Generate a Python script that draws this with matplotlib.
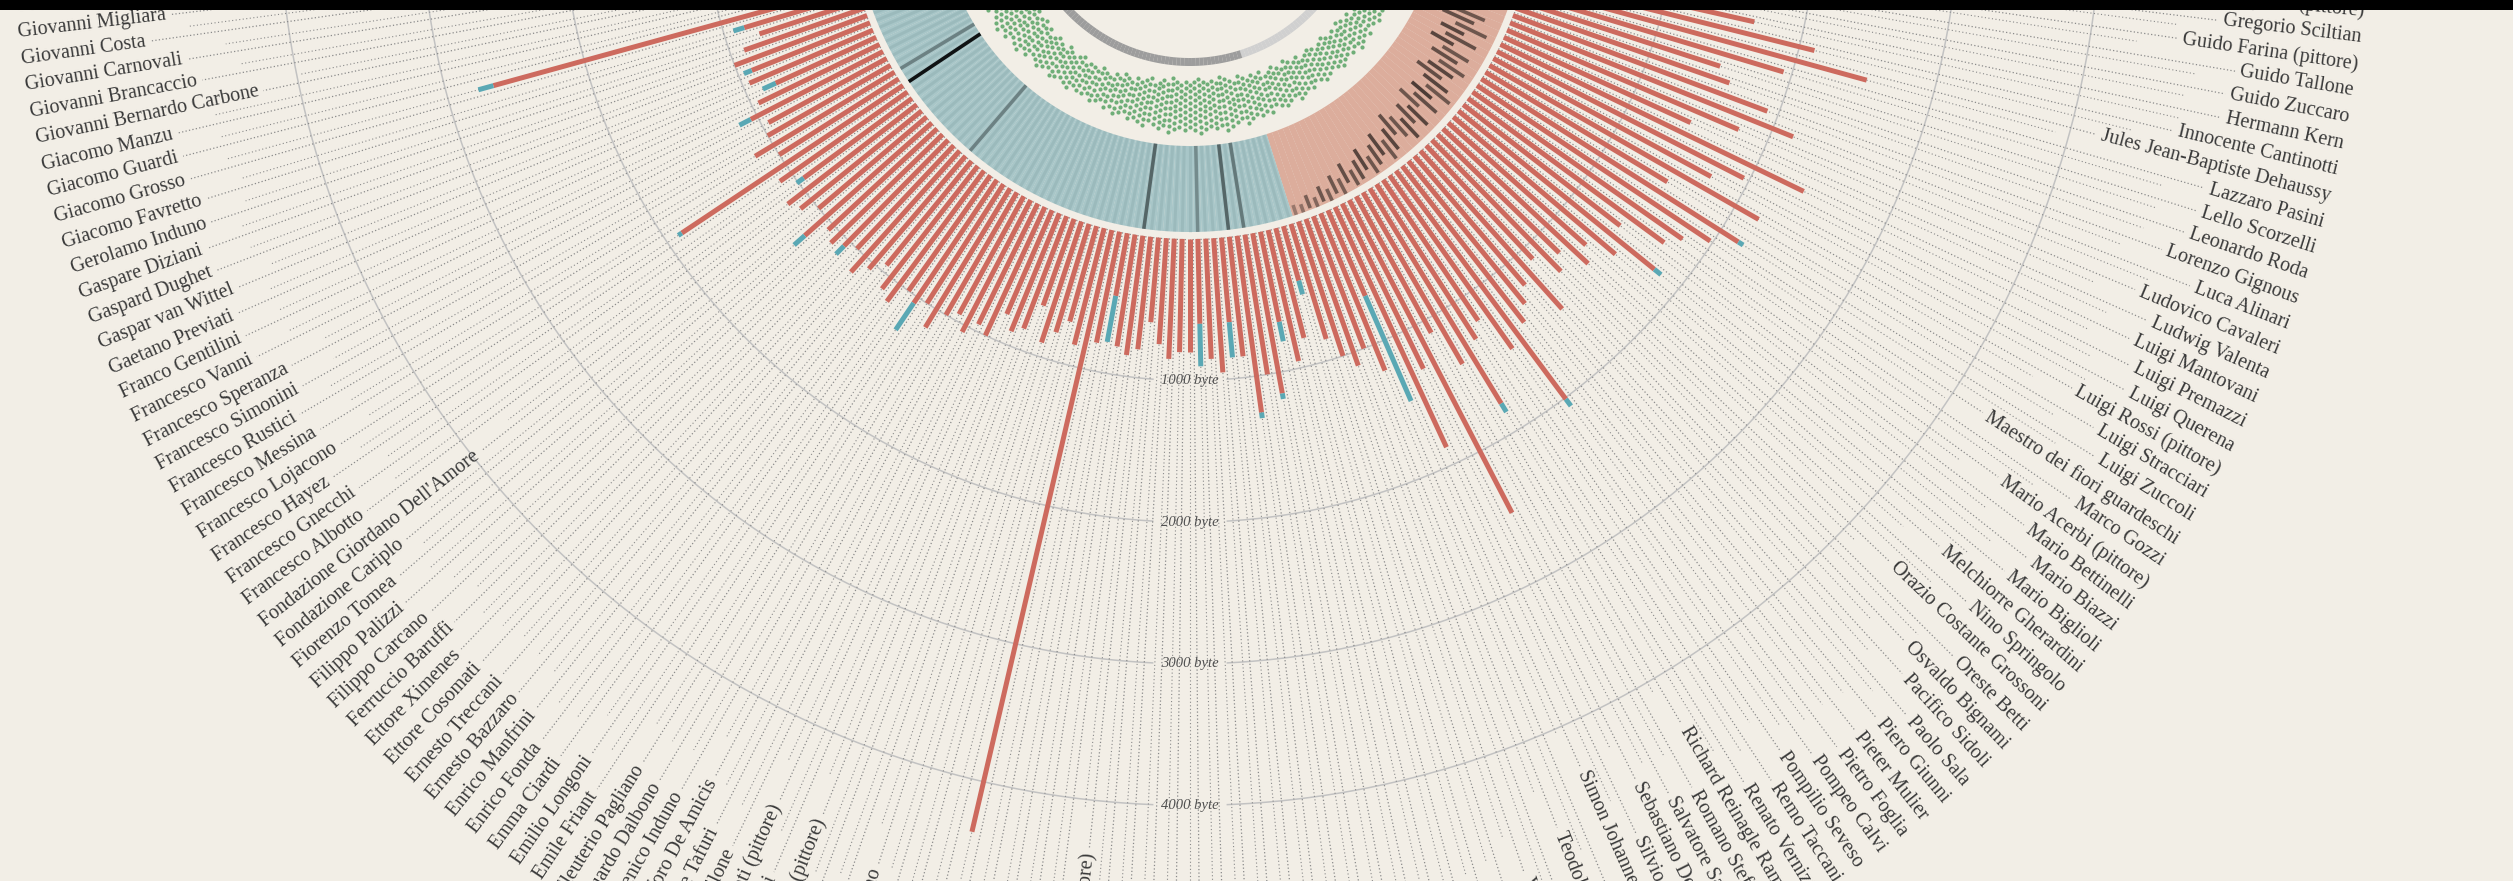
import numpy as np
import matplotlib
matplotlib.use("Agg")
import matplotlib.pyplot as plt
from matplotlib.textpath import TextPath
from matplotlib.font_manager import FontProperties
from matplotlib.patches import Rectangle

# ---------------------------------------------------------------- data
N_SLOTS = 275        # slots on the whole circle
FIRST_SLOT = 210     # slot of the first listed painter; the list runs clockwise

names = [
    "Giuseppe Ugolini (pittore)", "Gregorio Sciltian", "Guido Farina (pittore)", "Guido Tallone",
    "Guido Zuccaro", "Hermann Kern", "Innocente Cantinotti", "Jules Jean-Baptiste Dehaussy",
    "Lazzaro Pasini", "Lello Scorzelli", "Leonardo Roda", "Lorenzo Gignous", "Luca Alinari",
    "Ludovico Cavaleri", "Ludwig Valenta", "Luigi Mantovani", "Luigi Premazzi", "Luigi Querena",
    "Luigi Rossi (pittore)", "Luigi Stracciari", "Luigi Zuccoli", "Maestro dei fiori guardeschi",
    "Marco Gozzi", "Mario Acerbi (pittore)", "Mario Bettinelli", "Mario Biazzi", "Mario Biglioli",
    "Melchiorre Gherardini", "Nino Springolo", "Orazio Costante Grossoni", "Oreste Betti",
    "Osvaldo Bignami", "Pacifico Sidoli", "Paolo Sala", "Piero Giunni", "Pieter Mulier",
    "Pietro Foglia", "Pompeo Calvi", "Pompilio Seveso", "Remo Taccani", "Renato Vernizzi",
    "Richard Reinagle Ramsay", "Romano Stefanelli", "Salvatore Saponaro", "Sebastiano De Albertis",
    "Silvio Consadori", "Simon Johannes van Douw", "Stefano Ussi", "Teodolinda Sabbatini",
    "Ugo Valeri", "Voltolino Fontani",
    "Walter Lazzaro", "Werther Sever", "Zeno Birolli", "Abele Vadacca", "Achille Funi",
    "Adolfo Wildt", "Aldo Carpi", "Alik Cavaliere", "Amos Nattini", "Angelo Landi",
    "Anselmo Bucci", "Antonio Rotta", "Arturo Noci", "Arturo Tosi",
    "Attilio Rossi", "Baccio Bacci", "Beppe Ciardi", "Bruno Saetti", "Camillo Innocenti (pittore)",
    "Camillo Rapetti", "Carlo Agazzi", "Carlo Bazzi", "Carlo Bonomi", "Carlo Bossoli",
    "Carlo Carrà", "Carlo Crespi", "Carlo Cressini", "Carlo Tito Dalbono", "Carlo Dolci",
    "Carlo Erba", "Carlo Ferranti (pittore)", "Cesare Maggi", "Cesare Monti (pittore)",
    "Cesare Tallone", "Clemente Tafuri", "Cristoforo De Amicis", "Domenico Induno",
    "Eduardo Dalbono", "Eleuterio Pagliano", "Emile Friant", "Emilio Longoni", "Emma Ciardi",
    "Enrico Fonda", "Enrico Manfrini", "Ernesto Bazzaro", "Ernesto Treccani", "Ettore Cosomati",
    "Ettore Ximenes", "Ferruccio Baruffi", "Filippo Carcano", "Filippo Palizzi", "Fiorenzo Tomea",
    "Fondazione Cariplo", "Fondazione Giordano Dell'Amore", "Francesco Albotto",
    "Francesco Gnecchi", "Francesco Hayez", "Francesco Lojacono", "Francesco Messina",
    "Francesco Rustici", "Francesco Simonini", "Francesco Speranza", "Francesco Vanni",
    "Franco Gentilini", "Gaetano Previati", "Gaspar van Wittel", "Gaspard Dughet",
    "Gaspare Diziani", "Gerolamo Induno", "Giacomo Favretto", "Giacomo Grosso", "Giacomo Guardi",
    "Giacomo Manzu", "Giovanni Bernardo Carbone", "Giovanni Brancaccio", "Giovanni Carnovali",
    "Giovanni Costa", "Giovanni Migliara", "Giovanni Segantini",
]

# article size in bytes (red part) and added part (teal)
red_bytes = [
    1500, 1600, 1400, 1700, 1500, 1650, 2110, 2520, 1940, 1500,
    1600, 1920, 2155, 1780, 1450, 2380, 1960, 1750, 2190, 1500,
    2150, 1980, 1810, 1720, 1400, 1780, 1500, 1300, 1400, 1200,
    1300, 1100, 1500, 1200, 1300, 1400, 2010, 1500, 1200, 1300,
    1780, 1400, 1100, 2490, 1300, 1870, 660, 1200, 1000, 1100,
    1000, 850, 400, 800, 950, 650, 1150, 1000, 1260, 850,
    600, 950, 850, 600, 800, 800, 850, 750, 600, 800,
    850, 800, 450, 800, 4363, 850, 700, 800, 900, 650,
    850, 900, 800, 1000, 950, 1050, 950, 1000, 1150, 1000,
    1050, 1000, 1150, 1100, 950, 1050, 1150, 1000, 1050, 1100,
    1050, 1200, 1000, 1100, 1150, 950, 1100, 1878, 1000, 1150,
    1000, 950, 1050, 950, 780, 950, 900, 1000, 900, 760,
    850, 2666, 800, 950, 750, 850, 750, 650, 750, 650,
]
teal_bytes = [
    0, 0, 0, 0, 0, 0, 0, 0, 0, 0,
    0, 0, 0, 0, 0, 0, 0, 0, 0, 0,
    40, 0, 0, 0, 0, 60, 0, 0, 0, 0,
    0, 0, 0, 0, 0, 0, 60, 0, 0, 0,
    70, 0, 0, 0, 0, 0, 810, 0, 0, 0,
    0, 0, 100, 0, 0, 140, 40, 0, 40, 0,
    250, 0, 0, 300, 0, 0, 0, 0, 0, 0,
    0, 0, 330, 0, 0, 0, 0, 0, 0, 0,
    0, 0, 0, 0, 0, 0, 0, 0, 0, 0,
    228, 0, 0, 0, 0, 0, 0, 0, 80, 0,
    0, 100, 0, 0, 0, 60, 0, 30, 0, 0,
    0, 0, 90, 0, 100, 0, 60, 0, 0, 0,
    80, 110, 0, 0, 0, 0, 0, 0, 0, 0,
]
# group of each painter (inner band colour / grey ring)
group = ["pink"] * 51 + ["blue"] * 79

# dark segment inside the inner band: start, end (fraction of band) and darkness
band_lo = [
    .25, .20, .35, .15, .30, .25, .40, .20, .30, .45,
    .25, .35, .20, .40, .30, .50, .35, .45, .30, .50,
    .40, .55, .45, .35, .50, .60, .45, .55, .40, .60,
    .50, .65, .55, .45, .60, .70, .55, .65, .75, .60,
    .70, .78, .65, .80, .72, .85, .78, .88, .82, .90,
    .88, 0, 0, 0, 0, 0, 0, 0, 0, 0,
    0, 0, 0, 0, 0, 0, 0, 0, 0, 0,
    0, 0, 0, 0, 0, 0, 0, 0, 0, 0,
    0, 0, 0, 0, 0, 0, 0, 0, 0, 0,
    0, 0, 0, 0, 0, 0, 0, 0, 0, 0,
    0, 0, 0, 0, 0, 0, 0, 0, 0, 0,
    0, 0, 0, 0, 0, 0, 0, 0, 0, 0,
    0, 0, 0, 0, 0, 0, 0, 0, 0, 0,
]
band_hi = [
    .70, .65, .80, .60, .75, .55, .85, .70, .65, .90,
    .60, .75, .55, .80, .70, .90, .65, .85, .60, .85,
    .75, .90, .80, .70, .85, .95, .75, .90, .70, .92,
    .80, .95, .85, .75, .90, .97, .85, .92, .98, .88,
    .95, .98, .90, 1.0, .95, 1.0, .97, 1.0, .98, 1.0,
    1.0, 0, 0, 0, 0, 0, 0, 1.0, 0, 1.0,
    0, 0, 0, 1.0, 0, 0, 0, 0, 0, 0,
    1.0, 0, 0, 0, 0, 0, 0, 0, 0, 0,
    0, 0, 0, 0, 0, 0, 0, 0, 0, 0,
    0, 0, 0, 0, 0, 1.0, 0, 0, 0, 0,
    0, 0, 0, 0, 0, 0, 0, 1.0, 0, 1.0,
    0, 0, 0, 0, 0, 0, 0, 0, 0, 0,
    0, 0, 0, 0, 0, 0, 0, 0, 0, 0,
]
band_alpha = [
    .55, .60, .50, .65, .50, .70, .45, .60, .55, .50,
    .60, .55, .65, .50, .55, .50, .60, .55, .60, .50,
    .55, .50, .60, .55, .60, .50, .65, .55, .50, .60,
    .55, .60, .50, .55, .60, .50, .60, .55, .50, .60,
    .55, .50, .55, .45, .50, .45, .50, .40, .45, .35,
    .30, 0, 0, 0, 0, 0, 0, .35, 0, .45,
    0, 0, 0, .25, 0, 0, 0, 0, 0, 0,
    .45, 0, 0, 0, 0, 0, 0, 0, 0, 0,
    0, 0, 0, 0, 0, 0, 0, 0, 0, 0,
    0, 0, 0, 0, 0, .30, 0, 0, 0, 0,
    0, 0, 0, 0, 0, 0, 0, .90, 0, .30,
    0, 0, 0, 0, 0, 0, 0, 0, 0, 0,
    0, 0, 0, 0, 0, 0, 0, 0, 0, 0,
]
# number of green dots stacked in each slot
dot_count = [
    5, 4, 5, 6, 5, 4, 5, 6, 5, 5,
    4, 6, 5, 5, 6, 5, 4, 5, 6, 5,
    5, 6, 5, 4, 6, 5, 6, 7, 5, 6,
    5, 6, 7, 6, 5, 6, 7, 6, 5, 7,
    6, 7, 8, 6, 7, 8, 7, 6, 8, 7,
    8, 7, 8, 9, 7, 8, 9, 10, 8, 9,
    8, 9, 10, 9, 8, 9, 8, 9, 10, 8,
    9, 8, 7, 9, 8, 7, 8, 6, 7, 8,
    6, 7, 5, 6, 7, 5, 6, 6, 5, 7,
    6, 5, 6, 7, 5, 6, 7, 6, 5, 7,
    6, 8, 7, 6, 8, 7, 9, 8, 7, 6,
    8, 7, 9, 8, 7, 6, 8, 7, 6, 7,
    5, 6, 7, 5, 6, 5, 6, 5, 4, 5,
]
byte_ticks = [1000, 2000, 3000, 4000]

# ---------------------------------------------------------------- style / geometry
W, H, DPI = 2513, 881, 100
BG = "#f2eee6"
RED = "#cd6a5e"
TEAL = "#5aa8b4"
BAND_COL = {"blue": "#a8c6c8", "pink": "#dcad9c"}
RING_COL = {"blue": "#9d9d9d", "pink": "#d0d0d0"}
GREEN = "#6fae78"
TXT = "#3a3a3a"
DOTLINE = "#8a8a8a"
FONT = "Liberation Serif"
FS_PT = 14.5

CX, CY = 1190, -106          # centre of the circle, pixels from top-left
HALF = 1300                  # half size of the polar axes box, px
PX_PER_BYTE = 0.1416
R0 = 345                     # radius (px) of 0 byte
R_OUT = 1180                 # outer end of the names
BAND_IN, BAND_OUT = 252, 338
RING_IN, RING_OUT = 164, 172
DOT_MID, DOT_GAP = 212, 6.0
SLOT_PHASE = 1.0
LABEL_SHIFT = -0.4           # names sit a little off their bar, in slots


def rpx(px):
    """pixel radius -> radial data value (bytes)"""
    return (np.asarray(px, dtype=float) - R0) / PX_PER_BYTE


step = 360.0 / N_SLOTS
n = len(names)
slots = np.array([(FIRST_SLOT + p) % N_SLOTS for p in range(n)])
phi = (slots + SLOT_PHASE) * step
phi = np.where(phi > 180, phi - 360, phi)
theta = np.deg2rad(phi)
phi_lab = phi + LABEL_SHIFT * step
theta_lab = np.deg2rad(phi_lab)
red = np.array(red_bytes, float)
teal = np.array(teal_bytes, float)
wslot = np.deg2rad(step)

fig = plt.figure(figsize=(W / DPI, H / DPI), dpi=DPI, facecolor=BG)
ax = fig.add_axes([(CX - HALF) / W, (H - CY - HALF) / H, 2 * HALF / W, 2 * HALF / H],
                  projection="polar")
ax.set_theta_zero_location("S")
ax.set_theta_direction(-1)
ax.axis("off")

# byte circles with a gap for their label
lab_fp = FontProperties(family=FONT, style="italic", size=10.5 * DPI / 72)
for b in byte_ticks:
    r_b = R0 + b * PX_PER_BYTE
    lw_px = TextPath((0, 0), f"{b} byte", prop=lab_fp).get_extents().width
    gap = (lw_px / 2 + 9) / r_b
    th = np.linspace(gap, 2 * np.pi - gap, 1500)
    ax.plot(th, np.full_like(th, b), color="#c2c2c2", lw=1.1, zorder=1)
    ax.text(0, b, f"{b} byte", ha="center", va="center", fontsize=10.5, family=FONT,
            style="italic", color="#505050", zorder=8)

# labels + dotted leaders
name_fp = FontProperties(family=FONT, size=FS_PT * DPI / 72)
lead_end = []
for p in range(n):
    f = phi_lab[p]
    if f >= 0:
        rot, ha = 90 - f, "left"
    else:
        rot, ha = -90 - f, "right"
    ax.text(theta_lab[p], rpx(R_OUT), names[p], rotation=rot, rotation_mode="anchor",
            ha=ha, va="center", fontsize=FS_PT, family=FONT, color=TXT, zorder=8)
    wtxt = TextPath((0, 0), names[p], prop=name_fp).get_extents().width
    lead_end.append(rpx(R_OUT - wtxt - 6))
lead_end = np.array(lead_end)
ax.vlines(theta_lab, 0, lead_end, colors=DOTLINE, lw=0.9, linestyles=(0, (1, 1.8)), zorder=2)
ax.vlines(theta, 0, lead_end - rpx(R0 + 40) + rpx(R0), colors=DOTLINE, lw=0.8,
          linestyles=(0, (1, 2.2)), zorder=2)

# inner band
band_c = [BAND_COL[g] for g in group]
ax.bar(theta, rpx(BAND_OUT) - rpx(BAND_IN), width=wslot * 1.02, bottom=rpx(BAND_IN),
       color=band_c, linewidth=0, zorder=3)
blue_idx = [p for p in range(n) if group[p] == "blue"]
ax.vlines(theta[blue_idx], rpx(BAND_IN), rpx(BAND_OUT), colors="#2f5a5c", alpha=0.10,
          lw=2.2, zorder=4)
lo = np.array(band_lo)
hi = np.array(band_hi)
al = np.array(band_alpha)
for p in range(n):
    if al[p] > 0:
        ax.plot([theta[p], theta[p]],
                [rpx(BAND_IN + lo[p] * (BAND_OUT - BAND_IN)),
                 rpx(BAND_IN + hi[p] * (BAND_OUT - BAND_IN))],
                color="black", alpha=al[p], lw=2.6, solid_capstyle="butt", zorder=4)

# grey ring
ring_c = [RING_COL[g] for g in group]
ax.bar(theta, rpx(RING_OUT) - rpx(RING_IN), width=wslot * 1.02, bottom=rpx(RING_IN),
       color=ring_c, linewidth=0, zorder=3)

# green dots
dth, dr = [], []
for p in range(n):
    k = dot_count[p]
    for j in range(k):
        dth.append(theta[p])
        dr.append(rpx(DOT_MID + (j - (k - 1) / 2) * DOT_GAP))
ax.scatter(dth, dr, s=9, color=GREEN, linewidths=0, zorder=4)

# bars
ax.vlines(theta, 0, red, colors=RED, lw=3.6, capstyle="butt", zorder=5)
tm = teal > 0
ax.vlines(theta[tm], red[tm], red[tm] + teal[tm], colors=TEAL, lw=3.6, capstyle="butt", zorder=6)

ax.set_xlim(0, 2 * np.pi)
ax.set_ylim(rpx(0), rpx(HALF))

# dark page header strip
fig.add_artist(Rectangle((0, 1 - 10 / H), 1, 10 / H, transform=fig.transFigure,
                         facecolor="black", edgecolor="none", zorder=100))

fig.savefig("out.png", dpi=DPI, facecolor=BG)
